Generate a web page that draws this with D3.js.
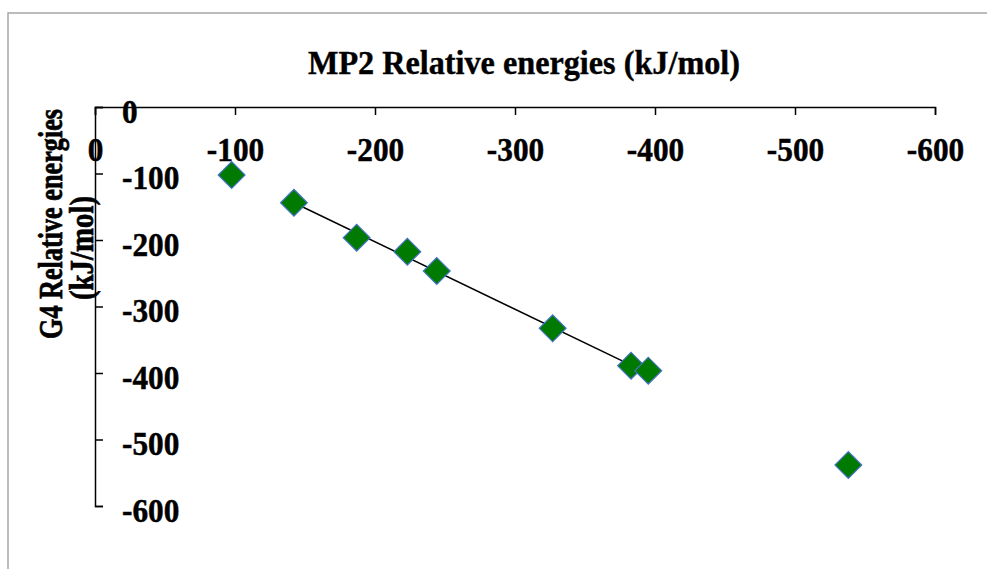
<!DOCTYPE html>
<html>
<head>
<meta charset="utf-8">
<script src="https://cdn.jsdelivr.net/npm/d3@7/dist/d3.min.js"></script>
<style>
  html, body { margin: 0; padding: 0; background: #fff; }
  svg { display: block; }
  text { font-family: "Liberation Serif", "Times New Roman", serif; font-weight: bold; fill: #000; }
</style>
</head>
<body>
<svg id="chart" width="987" height="569"></svg>
<script>
// ---- data ----
const mp2Energies = [-97.6, -142.1, -186.9, -223.1, -244.1, -326.9, -382.9, -395.2, -538.1];
const g4Energies  = [-102.3, -143.9, -196.5, -217.6, -246.6, -332.8, -389.0, -396.5, -538.3];
const trendIndices = [1, 2, 3, 4, 5, 6];   // points covered by the linear trendline
const xTickValues = [0, -100, -200, -300, -400, -500, -600];
const yTickValues = [0, -100, -200, -300, -400, -500, -600];
const chartTitle = "MP2 Relative energies (kJ/mol)";
const yTitleLines = ["G4 Relative energies", "(kJ/mol)"];

const svg = d3.select("#chart");

// outer border
svg.append("rect")
  .attr("x", 8).attr("y", 13).attr("width", 1000).attr("height", 600)
  .attr("fill", "none").attr("stroke", "#a6a6a6").attr("stroke-width", 1.5);

const x = d3.scaleLinear().domain([0, -600]).range([95, 935]);
const y = d3.scaleLinear().domain([0, -600]).range([107, 506]);

const fmt = d => d3.format("d")(d).replace("−", "-");

// x axis (on top, ticks pointing down)
const gx = svg.append("g").attr("transform", `translate(0,${y(0)})`)
  .call(d3.axisBottom(x).tickValues(xTickValues).tickSize(8).tickPadding(24).tickFormat(fmt));
// y axis (ticks pointing right)
const gy = svg.append("g").attr("transform", `translate(${x(0)},0)`)
  .call(d3.axisRight(y).tickValues(yTickValues).tickSize(8).tickPadding(19).tickFormat(fmt));

[gx, gy].forEach(g => {
  g.selectAll("path.domain").attr("stroke", "#000").attr("stroke-width", 1.5);
  g.selectAll(".tick line").attr("stroke", "#000").attr("stroke-width", 1.5);
  g.selectAll(".tick text")
    .attr("font-family", "'Liberation Serif', 'Times New Roman', serif")
    .attr("font-weight", "bold").attr("font-size", 34).attr("fill", "#000")
    .attr("stroke", "#000").attr("stroke-width", 0.5)
    .each(function () {
      const w = this.getComputedTextLength();
      d3.select(this).attr("textLength", w * 0.92).attr("lengthAdjust", "spacingAndGlyphs");
    });
});
gx.selectAll(".tick text").attr("dy", "0.66em");
gy.selectAll(".tick text").attr("dy", "0.45em").attr("text-anchor", "start");

// trendline (least squares over the trend subset)
const tx = trendIndices.map(i => mp2Energies[i]);
const ty = trendIndices.map(i => g4Energies[i]);
const mx = d3.mean(tx), my = d3.mean(ty);
const slope = d3.sum(tx, (v, i) => (v - mx) * (ty[i] - my)) / d3.sum(tx, v => (v - mx) * (v - mx));
const icpt = my - slope * mx;
const ext = d3.extent(tx);
svg.append("line")
  .attr("x1", x(ext[0])).attr("y1", y(slope * ext[0] + icpt))
  .attr("x2", x(ext[1])).attr("y2", y(slope * ext[1] + icpt))
  .attr("stroke", "#000").attr("stroke-width", 1.5);

// markers
const diamond = d3.symbol().type(d3.symbolSquare).size(360);
svg.append("g").selectAll("path")
  .data(mp2Energies.map((v, i) => [v, g4Energies[i]]))
  .join("path")
  .attr("d", diamond)
  .attr("transform", d => `translate(${x(d[0])},${y(d[1])}) rotate(45)`)
  .attr("fill", "#007a00").attr("stroke", "#4472c4").attr("stroke-width", 1.2);

// chart title
svg.append("text")
  .attr("x", 524).attr("y", 74).attr("text-anchor", "middle")
  .attr("font-size", 33).attr("textLength", 432).attr("lengthAdjust", "spacingAndGlyphs")
  .attr("stroke", "#000").attr("stroke-width", 0.4)
  .text(chartTitle);

// y axis title (two lines)
svg.append("text")
  .attr("transform", "translate(62,224) rotate(-90)")
  .attr("text-anchor", "middle").attr("font-size", 34)
  .attr("textLength", 230).attr("lengthAdjust", "spacingAndGlyphs")
  .attr("stroke", "#000").attr("stroke-width", 0.7)
  .text(yTitleLines[0]);
svg.append("text")
  .attr("transform", "translate(93,248) rotate(-90)")
  .attr("text-anchor", "middle").attr("font-size", 34)
  .attr("textLength", 104).attr("lengthAdjust", "spacingAndGlyphs")
  .attr("stroke", "#000").attr("stroke-width", 0.7)
  .text(yTitleLines[1]);
</script>
</body>
</html>
